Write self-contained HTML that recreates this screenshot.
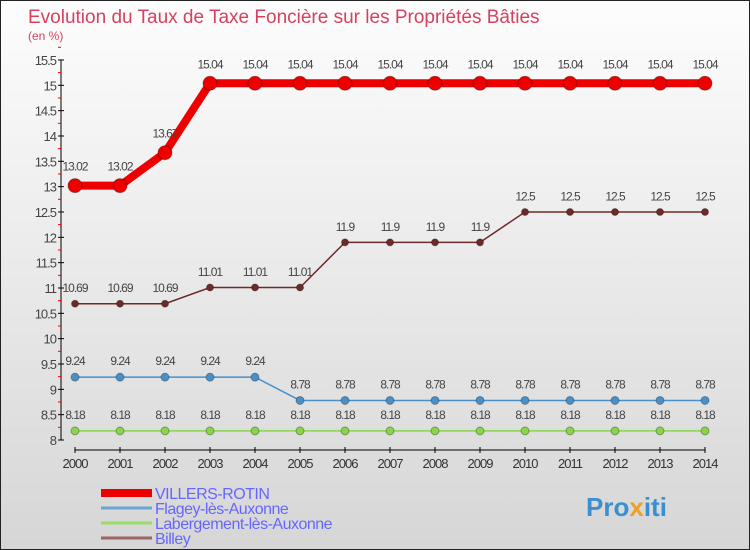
<!DOCTYPE html>
<html><head><meta charset="utf-8"><style>
body{margin:0}
#c{width:748px;height:548px;border:1px solid #222;background:linear-gradient(#fdfdfd,#d6d6d6);position:relative;overflow:hidden;font-family:"Liberation Sans",sans-serif}
</style></head><body>
<div id="c">
<svg width="748" height="548" id="s">
<text x="27" y="22" font-size="19" fill="#d8405f">Evolution du Taux de Taxe Foncière sur les Propriétés Bâties</text>
<text x="27" y="39" font-size="12" fill="#d8405f">(en %)</text>
<g id="g"></g>
<text x="585" y="515" font-size="26" font-weight="bold" fill="#3a8fd0">Pro<tspan fill="#f0a020">x</tspan>iti</text>
</svg></div>
<script>
const years=[2000,2001,2002,2003,2004,2005,2006,2007,2008,2009,2010,2011,2012,2013,2014];
const villers=[13.02,13.02,13.67,15.04,15.04,15.04,15.04,15.04,15.04,15.04,15.04,15.04,15.04,15.04,15.04];
const flagey=[9.24,9.24,9.24,9.24,9.24,8.78,8.78,8.78,8.78,8.78,8.78,8.78,8.78,8.78,8.78];
const labergement=[8.18,8.18,8.18,8.18,8.18,8.18,8.18,8.18,8.18,8.18,8.18,8.18,8.18,8.18,8.18];
const billey=[10.69,10.69,10.69,11.01,11.01,11.01,11.9,11.9,11.9,11.9,12.5,12.5,12.5,12.5,12.5];
const yTicks=[8,8.5,9,9.5,10,10.5,11,11.5,12,12.5,13,13.5,14,14.5,15,15.5];
const names=["VILLERS-ROTIN","Flagey-lès-Auxonne","Labergement-lès-Auxonne","Billey"];
const NS="http://www.w3.org/2000/svg",g=document.getElementById('g');
const X=i=>74+i*45, Y=v=>439-(v-8)*50.67;
function el(t,a,p){const e=document.createElementNS(NS,t);for(const k in a)e.setAttribute(k,a[k]);(p||g).appendChild(e);return e;}
let ax=el('line',{x1:60,y1:Y(15.5),x2:60,y2:Y(8),stroke:'#000'});


let bx=el('line',{x1:74,y1:449,x2:X(14),y2:449,stroke:'#000'});


yTicks.forEach(v=>{
 el('line',{x1:57,x2:63,y1:Y(v),y2:Y(v),stroke:'#000'});
 el('line',{x1:57,x2:60,y1:Y(v+0.25),y2:Y(v+0.25),stroke:'#e00'});
 const t=el('text',{x:55,y:Y(v)+5,'text-anchor':'end','font-size':13,fill:'#444','letter-spacing':'-1'});
 t.textContent=v;
 
 
});
years.forEach((y,i)=>{
 el('line',{x1:X(i),x2:X(i),y1:446,y2:452,stroke:'#000'});
 const t=el('text',{x:X(i),y:467,'text-anchor':'middle','font-size':13,fill:'#333','letter-spacing':'-1'});
 t.textContent=y;
 
 
});
function series(d,col,w,r,name){
 const p=el('polyline',{points:d.map((v,i)=>X(i)+','+Y(v)).join(' '),fill:'none',stroke:col,'stroke-width':w});
 
 
 d.forEach((v,i)=>{
  const c=el('circle',{cx:X(i),cy:Y(v),r:r,fill:col,stroke:'rgba(0,0,0,0.3)'});
  
  
  const t=el('text',{x:X(i),y:Y(v)-(r+8),'text-anchor':'middle','font-size':12,fill:'#444','letter-spacing':'-1'});
  t.textContent=v;
  
  
 });
}
series(labergement,'#88d44a',1.5,4,'labergement');
series(flagey,'#4a90c8',1.5,4,'flagey');
series(billey,'#6e2a2a',1.5,3.5,'billey');
series(villers,'#ee0000',8,7,'villers-rotin');
const cols=['#ee0000','#6aa6d0','#99dd66','#996666'],ws=[8,3,3,3];
names.forEach((n,i)=>{
 const y=492+i*15;
 const l=el('line',{x1:100,x2:151,y1:y,y2:y,stroke:cols[i],'stroke-width':ws[i]});
 
 
 const t=el('text',{x:154,y:y+6,'font-size':16,fill:'#6666ff','letter-spacing':'-0.5'});
 t.textContent=n;
 
 
});
</script>
</body></html>
